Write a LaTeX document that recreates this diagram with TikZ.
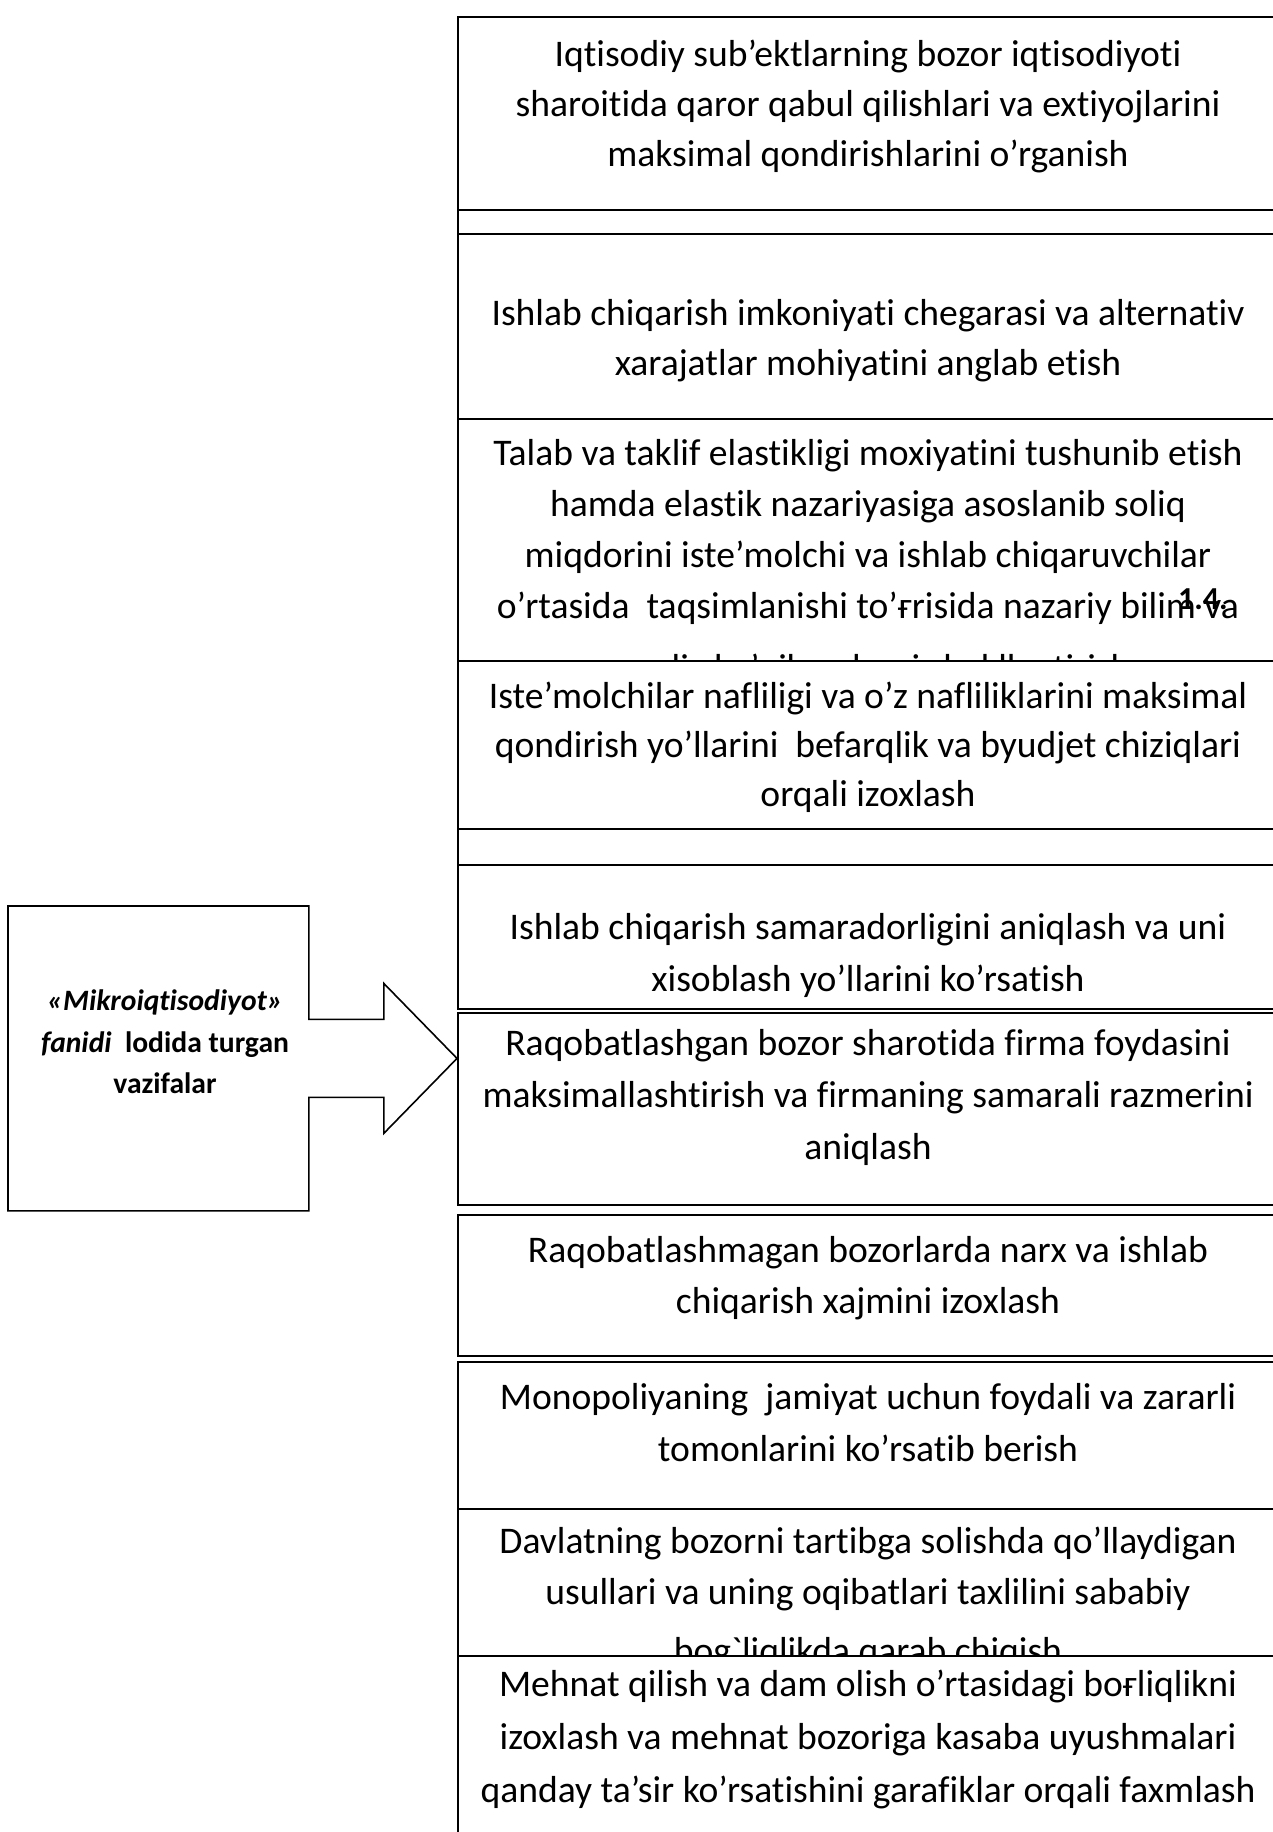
\documentclass[tikz,border=0pt]{standalone}
\usepackage{fontspec}
\setmainfont{Carlito}[Ligatures={TeXOff,CommonOff}]
\usetikzlibrary{calc}

% one framed row of the right-hand column: name, top, bottom
\newcommand\rowframe[3]{%
  \node[rowbox, minimum height={(#3-#2)*0.5pt}, anchor=north west] (#1) at (457,#2) {};}
% centred text lines of a row: name, first baseline, line step, lines
\newcommand\rowlines[4]{%
  \foreach \linetext [count=\k from 0] in {#4}{%
    \node[bodytext] (#1-\k) at (868,{#2+#3*\k}) {\linetext};}}

\begin{document}
\begin{tikzpicture}[x=0.5pt,y=-0.5pt,
  rowbox/.style={draw=black, fill=white, line width=1pt, inner sep=0pt,
                 minimum width=410pt},
  bodytext/.style={font=\fontsize{18.8}{25}\selectfont, anchor=base, inner sep=0pt},
  sidetext/.style={font=\fontsize{14.8}{20}\selectfont\bfseries, anchor=base, inner sep=0pt},
  tagtext/.style={font=\fontsize{16}{18}\selectfont\bfseries, anchor=base east, inner sep=0pt},
  sideframe/.style={draw=black, line width=0.8pt, line join=miter}]

\useasboundingbox (0,0) rectangle (1273,1832);
\fill[white] (0,0) rectangle (1273,1832);

% right-hand column, drawn top to bottom so that each row covers
% whatever text runs out of the row above it
\rowframe{r1}{16}{209}
\rowlines{r1}{66}{50}{{Iqtisodiy sub’ektlarning bozor iqtisodiyoti},
  {sharoitida qaror qabul qilishlari va extiyojlarini},
  {maksimal qondirishlarini o’rganish}}
\rowframe{t1}{209}{233}
\rowframe{r2}{233}{418}
\rowlines{r2}{325}{50}{{Ishlab chiqarish imkoniyati chegarasi va alternativ},
  {xarajatlar mohiyatini anglab etish}}
\rowframe{r3}{418}{660}
\rowlines{r3}{465}{51}{{Talab va taklif elastikligi moxiyatini tushunib etish},
  {hamda elastik nazariyasiga asoslanib soliq},
  {miqdorini iste’molchi va ishlab chiqaruvchilar},
  {o’rtasida\ \ taqsimlanishi to’ғrisida nazariy bilim va}}
\node[bodytext] (r3-4) at (868,680) {amaliy ko’nikmalarni shakllantirish};
\node[tagtext] (tag) at (1228,609) {1.4.};
\rowframe{r4}{660}{828}
\rowlines{r4}{708}{49}{{Iste’molchilar nafliligi va o’z nafliliklarini maksimal},
  {qondirish yo’llarini\ \ befarqlik va byudjet chiziqlari},
  {orqali izoxlash}}
\rowframe{t2}{828}{864}
\rowframe{r5}{864}{1008}
\rowlines{r5}{939}{52}{{Ishlab chiqarish samaradorligini aniqlash va uni},
  {xisoblash yo’llarini ko’rsatish}}
\rowframe{r6}{1012}{1204}
\rowlines{r6}{1055}{52}{{Raqobatlashgan bozor sharotida firma foydasini},
  {maksimallashtirish va firmaning samarali razmerini},
  {aniqlash}}
\rowframe{r7}{1214}{1355}
\rowlines{r7}{1262}{51}{{Raqobatlashmagan bozorlarda narx va ishlab},
  {chiqarish xajmini izoxlash}}
\rowframe{r8}{1361}{1508}
\rowlines{r8}{1409}{52}{{Monopoliyaning\ \ jamiyat uchun foydali va zararli},
  {tomonlarini ko’rsatib berish}}
\rowframe{r9}{1508}{1655}
\rowlines{r9}{1553}{51}{{Davlatning bozorni tartibga solishda qo’llaydigan},
  {usullari va uning oqibatlari taxlilini sababiy}}
\node[bodytext] (r9-2) at (868,1663) {bog`liqlikda qarab chiqish};
\rowframe{r10}{1655}{1900}
\rowlines{r10}{1696}{53}{{Mehnat qilish va dam olish o’rtasidagi boғliqlikni},
  {izoxlash va mehnat bozoriga kasaba uyushmalari},
  {qanday ta’sir ko’rsatishini garafiklar orqali faxmlash}}

% left box with its block arrow pointing at the column
\node[minimum width=150pt, minimum height=152pt, inner sep=0pt,
      anchor=north west] (lbox) at (8,906) {};
\draw[sideframe]
  (lbox.north west) -- (lbox.north east)
  -- ($(lbox.east)+(0,-39)$) -- ++(75,0) -- ++(0,-36)
  -- (r6.west |- lbox.east)
  -- ($(lbox.east)+(75,75)$) -- ++(0,-36)
  -- ($(lbox.east)+(0,39)$)
  -- (lbox.south east) -- (lbox.south west) -- cycle;
\node[sidetext] (s1) at (165,1010) {\itshape «Mikroiqtisodiyot»};
\node[sidetext] (s2) at (165,1052) {\textit{fanidi}\ \ lodida turgan};
\node[sidetext] (s3) at (165,1093) {vazifalar};
\end{tikzpicture}
\end{document}
